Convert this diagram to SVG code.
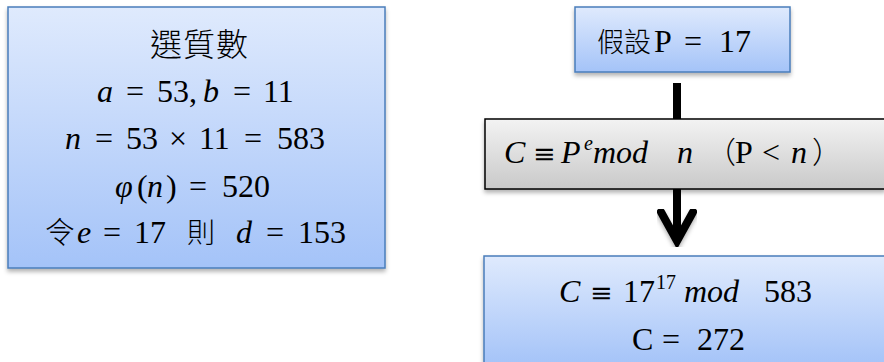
<svg xmlns="http://www.w3.org/2000/svg" width="884" height="362" viewBox="0 0 884 362">
<style>
.t{font-family:"Liberation Serif","Noto Sans CJK TC",serif;font-size:32px;fill:#000;}
.i{font-style:italic;}
.cjk{font-family:"Noto Sans CJK TC",sans-serif;font-weight:300;font-size:30px;}
.sup{font-size:20px;}
.eq{font-family:"DejaVu Serif",serif;font-size:27px;}
.blue{fill:url(#gb);stroke:#4a7ebb;stroke-width:1.5;}
.gray{fill:url(#gg);stroke:#000;stroke-width:1.5;}
.con{fill:none;stroke:#000;stroke-width:8;}
</style>
<defs>
<linearGradient id="gb" x1="0" y1="0" x2="0" y2="1">
<stop offset="0" stop-color="#dfeafd"/>
<stop offset="1" stop-color="#a4c3f8"/>
</linearGradient>
<linearGradient id="gg" x1="0" y1="0" x2="0" y2="1">
<stop offset="0" stop-color="#f3f3f3"/>
<stop offset="1" stop-color="#c9c9c9"/>
</linearGradient>
<filter id="sh" x="-10%" y="-10%" width="120%" height="130%">
<feDropShadow dx="0" dy="3" stdDeviation="2" flood-color="#000" flood-opacity="0.3"/>
</filter>
</defs>
<g id="connectors">
<path class="con" d="M677 83V119"/>
<path class="con" d="M677 189V240"/>
<path class="con" d="M661 212L677 241L693 212" stroke-linecap="round" filter="url(#sh)"/>
</g>
<g id="node-primes">
<rect class="blue" x="8" y="7" width="377" height="261" filter="url(#sh)"/>
<text class="t cjk" x="150" y="56" style="font-size:32px" letter-spacing="1">選質數</text>
<text class="t" y="102"><tspan class="i" x="97">a</tspan><tspan x="126">=</tspan><tspan x="157">53,</tspan><tspan class="i" x="203">b</tspan><tspan x="233">=</tspan><tspan x="263">11</tspan></text>
<text class="t" y="149"><tspan class="i" x="65">n</tspan><tspan x="95">=</tspan><tspan x="126">53</tspan><tspan x="169">×</tspan><tspan x="199">11</tspan><tspan x="244">=</tspan><tspan x="277">583</tspan></text>
<text class="t" y="197"><tspan class="i" x="115">φ</tspan><tspan x="137">(</tspan><tspan class="i" x="147">n</tspan><tspan x="166">)</tspan><tspan x="189">=</tspan><tspan x="222">520</tspan></text>
<text class="t" y="243"><tspan class="cjk" x="45">令</tspan><tspan class="i" x="77">e</tspan><tspan x="103">=</tspan><tspan x="134">17</tspan><tspan class="cjk" x="187" style="font-size:28px">則</tspan><tspan class="i" x="236">d</tspan><tspan x="266">=</tspan><tspan x="298">153</tspan></text>
</g>
<g id="node-p">
<rect class="blue" x="575" y="7" width="215" height="65" filter="url(#sh)"/>
<text class="t" y="52"><tspan class="cjk" x="597" style="font-size:27px">假設</tspan><tspan x="654">P</tspan><tspan x="684">=</tspan><tspan x="719">17</tspan></text>
</g>
<g id="node-formula">
<rect class="gray" x="485" y="119" width="400" height="70" filter="url(#sh)"/>
<text class="t" y="163"><tspan class="i" x="504">C</tspan><tspan class="eq" x="533">≡</tspan><tspan class="i" x="561">P</tspan><tspan class="i sup" x="584" y="150">e</tspan><tspan class="i" x="593" y="163">mod</tspan><tspan class="i" x="677">n</tspan><tspan class="cjk" x="706">（</tspan><tspan x="735">P</tspan><tspan x="762">&lt;</tspan><tspan class="i" x="791">n</tspan><tspan class="cjk" x="812">）</tspan></text>
</g>
<g id="node-result">
<rect class="blue" x="484" y="256" width="402" height="110" filter="url(#sh)"/>
<text class="t" y="302"><tspan class="i" x="559">C</tspan><tspan class="eq" x="590">≡</tspan><tspan x="623">17</tspan><tspan class="sup" x="656" y="289">17</tspan><tspan class="i" x="684" y="302">mod</tspan><tspan x="764">583</tspan></text>
<text class="t" y="350"><tspan x="632">C</tspan><tspan x="662">=</tspan><tspan x="697">272</tspan></text>
</g>
</svg>
